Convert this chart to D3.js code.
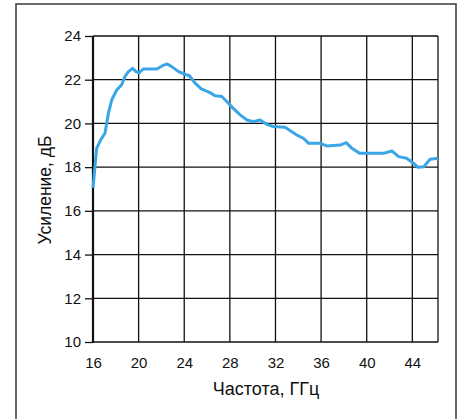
<!DOCTYPE html>
<html>
<head>
<meta charset="utf-8">
<script src="https://cdn.jsdelivr.net/npm/d3@7"></script>
<style>
  body { margin: 0; background: #fff; }
  svg { display: block; font-family: "Liberation Sans", Arial, sans-serif; }
</style>
</head>
<body>
<svg id="chart" width="464" height="419"></svg>
<script>
// Frequency (GHz) of each measured point
const freq = [16, 16.32, 16.67, 17.05, 17.2, 17.35, 17.64, 18.08, 18.5, 18.8, 19.1, 19.47, 19.77, 20.06, 20.4,
  21.6, 22.2, 22.5, 22.9, 23.5, 24.07, 24.45, 24.95, 25.5, 26.26, 26.7, 27.3, 27.87, 28.3, 28.9, 29.5,
  30.06, 30.65, 31.24, 31.8, 32.84, 33.87, 34.45, 34.9, 35.9, 36.5, 37.67, 38.2, 38.7, 39.4, 41.46,
  42.2, 42.8, 43.5, 44.1, 44.5, 45.0, 45.56, 46.25];
// Gain (dB) at each frequency
const gain = [17.05, 18.86, 19.24, 19.55, 20.0, 20.46, 21.07, 21.53, 21.76, 22.14, 22.37, 22.52, 22.37, 22.32, 22.49,
  22.49, 22.67, 22.72, 22.6, 22.37, 22.25, 22.18, 21.84, 21.58, 21.41, 21.27, 21.23, 20.92, 20.69, 20.39, 20.16,
  20.08, 20.16, 19.96, 19.86, 19.82, 19.47, 19.32, 19.09, 19.09, 18.97, 19.01, 19.12, 18.86, 18.63, 18.63,
  18.74, 18.48, 18.41, 18.18, 17.99, 18.02, 18.36, 18.41];

const xTicks = [16, 20, 24, 28, 32, 36, 40, 44];
const yTicks = [10, 12, 14, 16, 18, 20, 22, 24];
const xTitle = "Частота, ГГц";
const yTitle = "Усиление, дБ";

const svg = d3.select("#chart");
const plotL = 93, plotR = 438, plotT = 36, plotB = 342;

// Outer frame
svg.append("rect")
  .attr("x", 16).attr("y", 4).attr("width", 440).attr("height", 430)
  .attr("fill", "none").attr("stroke", "#444").attr("stroke-width", 1.6);

const x = d3.scaleLinear().domain([16, 46.25]).range([plotL, plotR]);
const y = d3.scaleLinear().domain([10, 24]).range([plotB, plotT]);

// Grid
const g = svg.append("g");
g.selectAll(".vx").data(xTicks.slice(1)).join("line")
  .attr("x1", d => x(d)).attr("x2", d => x(d))
  .attr("y1", plotT).attr("y2", plotB)
  .attr("stroke", "#111").attr("stroke-width", 1.3);
g.selectAll(".hy").data(yTicks).join("line")
  .attr("x1", plotL).attr("x2", plotR)
  .attr("y1", d => y(d)).attr("y2", d => y(d))
  .attr("stroke", "#111").attr("stroke-width", 1.3);
// Right border
g.append("line").attr("x1", plotR).attr("x2", plotR).attr("y1", plotT).attr("y2", plotB)
  .attr("stroke", "#111").attr("stroke-width", 1.3);

// Axes
const yAxis = svg.append("g").attr("transform", `translate(${plotL},0)`)
  .call(d3.axisLeft(y).tickValues(yTicks).tickSize(8).tickPadding(4));
const xAxis = svg.append("g").attr("transform", `translate(0,${plotB})`)
  .call(d3.axisBottom(x).tickValues(xTicks).tickSize(0).tickPadding(15));
[yAxis, xAxis].forEach(a => {
  a.select(".domain").remove();
  a.selectAll("line").attr("stroke", "#111").attr("stroke-width", 1.3);
  a.selectAll("text").attr("font-size", 15).attr("fill", "#111")
    .attr("font-family", "'Liberation Sans', Arial, sans-serif");
});
svg.append("line").attr("x1", plotL).attr("x2", plotL).attr("y1", plotT).attr("y2", plotB + 1)
  .attr("stroke", "#111").attr("stroke-width", 2.2);

// Gain curve
const pts = freq.map((f, i) => [f, gain[i]]);
svg.append("path")
  .datum(pts)
  .attr("fill", "none")
  .attr("stroke", "#3aa6e6")
  .attr("stroke-width", 3)
  .attr("stroke-linejoin", "round")
  .attr("d", d3.line().x(d => x(d[0])).y(d => y(d[1])));

// Titles
svg.append("text").attr("x", 266).attr("y", 395).attr("text-anchor", "middle")
  .attr("font-size", 18).attr("fill", "#111").text(xTitle);
svg.append("text").attr("transform", `translate(51,${(plotT + plotB) / 2 + 1}) rotate(-90)`)
  .attr("text-anchor", "middle").attr("font-size", 17.5).attr("fill", "#111").text(yTitle);
</script>
</body>
</html>
